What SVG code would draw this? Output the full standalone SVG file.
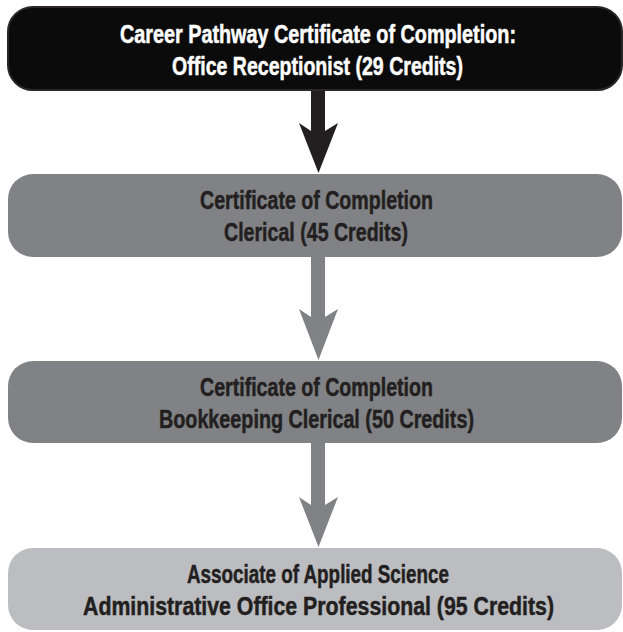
<svg xmlns="http://www.w3.org/2000/svg" width="623" height="632" viewBox="0 0 623 632">
<style>
.t{font-family:"Liberation Sans",Arial,sans-serif;font-weight:bold;font-size:25px;text-anchor:middle;stroke-width:0.5}
.dark{fill:#231f20;stroke:#231f20}
.light{fill:#ffffff;stroke:#ffffff}
</style>
<rect width="623" height="632" fill="#ffffff"/>
<g id="connectors">
<path d="M311,90 L325,90 L325,131 L338,123 L318.5,173 L299,123 L311,131 Z" fill="#231f20"/>
<path d="M311,257 L325,257 L325,317 L338,309 L318.5,360 L299,309 L311,317 Z" fill="#808285"/>
<path d="M311,443 L325,443 L325,505 L338,497 L318.5,547 L299,497 L311,505 Z" fill="#808285"/>
</g>
<g id="node1">
<rect x="8" y="7" width="614" height="83" rx="25" ry="25" fill="#0b0b0b" stroke="#2b2627" stroke-width="2"/>
<text class="t light" x="318" y="43" textLength="396" lengthAdjust="spacingAndGlyphs">Career Pathway Certificate of Completion:</text>
<text class="t light" x="317.5" y="75" textLength="291" lengthAdjust="spacingAndGlyphs">Office Receptionist (29 Credits)</text>
</g>
<g id="node2">
<rect x="8" y="174" width="614" height="83" rx="25" ry="25" fill="#808285"/>
<text class="t dark" x="316.5" y="209" textLength="233" lengthAdjust="spacingAndGlyphs">Certificate of Completion</text>
<text class="t dark" x="316" y="241" textLength="184" lengthAdjust="spacingAndGlyphs">Clerical (45 Credits)</text>
</g>
<g id="node3">
<rect x="8" y="361" width="614" height="82" rx="25" ry="25" fill="#808285"/>
<text class="t dark" x="316.5" y="396" textLength="233" lengthAdjust="spacingAndGlyphs">Certificate of Completion</text>
<text class="t dark" x="316.5" y="428" textLength="315" lengthAdjust="spacingAndGlyphs">Bookkeeping Clerical (50 Credits)</text>
</g>
<g id="node4">
<rect x="8" y="548" width="614" height="82" rx="25" ry="25" fill="#bcbdc0"/>
<text class="t dark" x="318" y="583" textLength="262" lengthAdjust="spacingAndGlyphs">Associate of Applied Science</text>
<text class="t dark" x="318.5" y="615" textLength="471" lengthAdjust="spacingAndGlyphs">Administrative Office Professional (95 Credits)</text>
</g>
</svg>
